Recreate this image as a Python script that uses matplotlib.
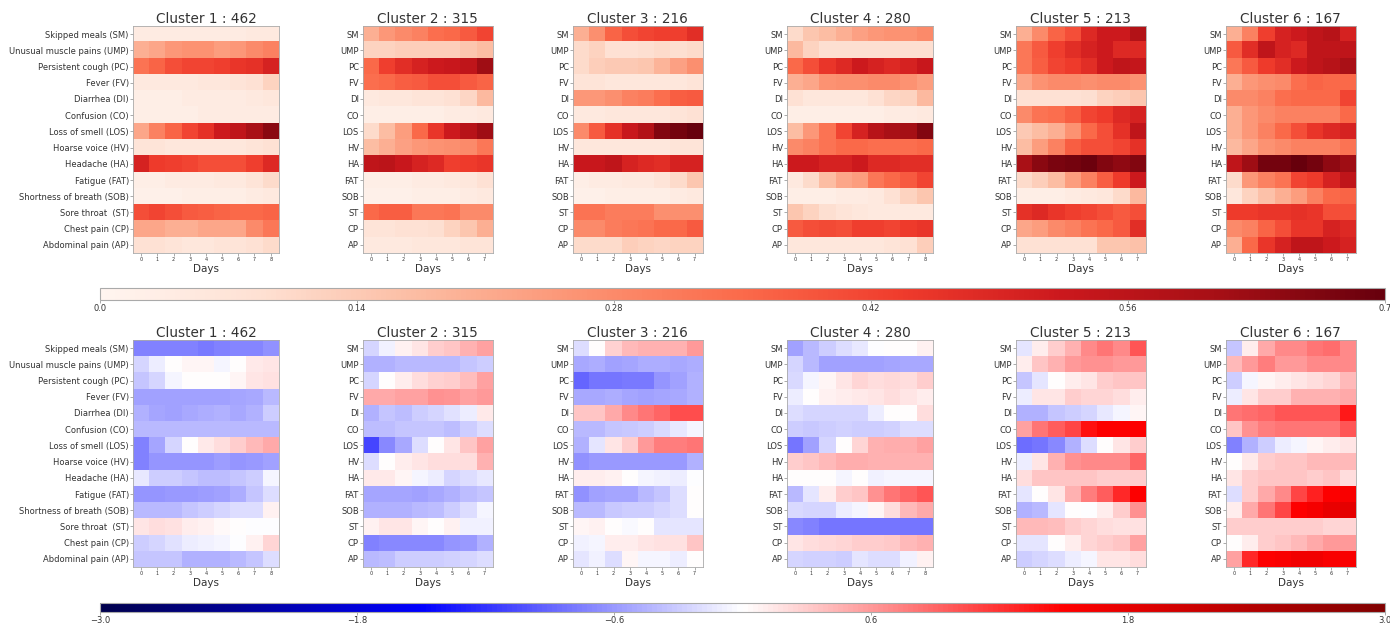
import matplotlib
matplotlib.use("Agg")
import matplotlib.pyplot as plt
import numpy as np

# symptom labels
full_names = ["Skipped meals (SM)", "Unusual muscle pains (UMP)", "Persistent cough (PC)",
              "Fever (FV)", "Diarrhea (DI)", "Confusion (CO)", "Loss of smell (LOS)",
              "Hoarse voice (HV)", "Headache (HA)", "Fatigue (FAT)",
              "Shortness of breath (SOB)", "Sore throat  (ST)", "Chest pain (CP)",
              "Abdominal pain (AP)"]
short_names = ["SM", "UMP", "PC", "FV", "DI", "CO", "LOS", "HV", "HA", "FAT", "SOB", "ST", "CP", "AP"]

cluster_ids = [1, 2, 3, 4, 5, 6]
cluster_sizes = [462, 315, 216, 280, 213, 167]

# top row: symptom prevalence (0 - 0.7)
prev_c1 = [[0.04, 0.04, 0.04, 0.04, 0.04, 0.04, 0.04, 0.05, 0.05],
           [0.20, 0.22, 0.25, 0.26, 0.26, 0.24, 0.25, 0.28, 0.30],
           [0.33, 0.36, 0.40, 0.42, 0.42, 0.43, 0.45, 0.46, 0.50],
           [0.05, 0.05, 0.05, 0.05, 0.06, 0.06, 0.07, 0.08, 0.12],
           [0.03, 0.03, 0.03, 0.04, 0.04, 0.04, 0.04, 0.05, 0.06],
           [0.03, 0.03, 0.03, 0.03, 0.04, 0.04, 0.04, 0.04, 0.04],
           [0.22, 0.30, 0.36, 0.42, 0.46, 0.52, 0.55, 0.60, 0.65],
           [0.07, 0.07, 0.06, 0.06, 0.06, 0.06, 0.06, 0.07, 0.08],
           [0.50, 0.44, 0.43, 0.42, 0.40, 0.40, 0.40, 0.43, 0.48],
           [0.03, 0.03, 0.04, 0.04, 0.04, 0.05, 0.05, 0.07, 0.10],
           [0.02, 0.02, 0.02, 0.03, 0.03, 0.03, 0.03, 0.04, 0.05],
           [0.40, 0.42, 0.40, 0.38, 0.37, 0.36, 0.35, 0.35, 0.36],
           [0.22, 0.22, 0.20, 0.20, 0.22, 0.22, 0.22, 0.28, 0.32],
           [0.08, 0.08, 0.07, 0.06, 0.06, 0.07, 0.07, 0.08, 0.10]]
prev_c2 = [[0.20, 0.25, 0.28, 0.30, 0.34, 0.35, 0.38, 0.42],
           [0.12, 0.12, 0.13, 0.13, 0.13, 0.13, 0.15, 0.17],
           [0.35, 0.43, 0.47, 0.50, 0.52, 0.53, 0.55, 0.62],
           [0.34, 0.35, 0.37, 0.38, 0.40, 0.40, 0.38, 0.36],
           [0.05, 0.06, 0.06, 0.07, 0.07, 0.08, 0.11, 0.18],
           [0.03, 0.03, 0.03, 0.03, 0.03, 0.04, 0.04, 0.05],
           [0.10, 0.17, 0.24, 0.35, 0.45, 0.52, 0.57, 0.62],
           [0.17, 0.20, 0.23, 0.25, 0.26, 0.27, 0.28, 0.32],
           [0.55, 0.56, 0.53, 0.50, 0.48, 0.43, 0.44, 0.45],
           [0.03, 0.03, 0.03, 0.04, 0.04, 0.05, 0.06, 0.08],
           [0.02, 0.02, 0.02, 0.03, 0.03, 0.03, 0.04, 0.05],
           [0.35, 0.37, 0.37, 0.32, 0.32, 0.33, 0.28, 0.28],
           [0.07, 0.07, 0.08, 0.08, 0.09, 0.12, 0.15, 0.20],
           [0.05, 0.05, 0.05, 0.06, 0.06, 0.06, 0.07, 0.07]]
prev_c3 = [[0.20, 0.27, 0.36, 0.40, 0.42, 0.43, 0.43, 0.47],
           [0.10, 0.12, 0.08, 0.08, 0.09, 0.10, 0.09, 0.10],
           [0.10, 0.13, 0.14, 0.14, 0.15, 0.19, 0.23, 0.27],
           [0.07, 0.07, 0.06, 0.06, 0.06, 0.06, 0.06, 0.07],
           [0.25, 0.25, 0.27, 0.30, 0.31, 0.34, 0.37, 0.38],
           [0.05, 0.05, 0.06, 0.06, 0.06, 0.06, 0.07, 0.08],
           [0.28, 0.38, 0.46, 0.53, 0.58, 0.66, 0.68, 0.70],
           [0.06, 0.06, 0.06, 0.06, 0.06, 0.06, 0.07, 0.07],
           [0.53, 0.53, 0.55, 0.50, 0.48, 0.47, 0.50, 0.50],
           [0.03, 0.04, 0.04, 0.05, 0.05, 0.07, 0.10, 0.15],
           [0.02, 0.02, 0.03, 0.03, 0.03, 0.03, 0.04, 0.05],
           [0.33, 0.33, 0.31, 0.31, 0.31, 0.27, 0.27, 0.27],
           [0.28, 0.28, 0.31, 0.32, 0.33, 0.35, 0.35, 0.38],
           [0.10, 0.10, 0.10, 0.13, 0.12, 0.11, 0.12, 0.12]]
prev_c4 = [[0.10, 0.15, 0.17, 0.20, 0.23, 0.25, 0.26, 0.26, 0.28],
           [0.18, 0.12, 0.09, 0.09, 0.09, 0.09, 0.09, 0.09, 0.09],
           [0.35, 0.40, 0.45, 0.48, 0.52, 0.50, 0.48, 0.50, 0.53],
           [0.20, 0.22, 0.26, 0.27, 0.27, 0.28, 0.28, 0.26, 0.24],
           [0.08, 0.06, 0.06, 0.06, 0.06, 0.08, 0.11, 0.12, 0.18],
           [0.03, 0.03, 0.03, 0.03, 0.03, 0.03, 0.04, 0.04, 0.05],
           [0.17, 0.25, 0.33, 0.42, 0.50, 0.57, 0.60, 0.61, 0.66],
           [0.28, 0.30, 0.33, 0.35, 0.35, 0.34, 0.34, 0.34, 0.35],
           [0.52, 0.52, 0.50, 0.50, 0.52, 0.48, 0.48, 0.47, 0.47],
           [0.05, 0.10, 0.17, 0.22, 0.24, 0.32, 0.35, 0.38, 0.42],
           [0.03, 0.03, 0.03, 0.04, 0.04, 0.05, 0.08, 0.12, 0.15],
           [0.15, 0.12, 0.09, 0.07, 0.06, 0.05, 0.05, 0.05, 0.05],
           [0.38, 0.40, 0.41, 0.40, 0.43, 0.43, 0.42, 0.44, 0.45],
           [0.06, 0.06, 0.06, 0.06, 0.06, 0.06, 0.07, 0.08, 0.13]]
prev_c5 = [[0.20, 0.28, 0.36, 0.40, 0.48, 0.52, 0.52, 0.58],
           [0.32, 0.38, 0.43, 0.47, 0.50, 0.52, 0.48, 0.48],
           [0.32, 0.37, 0.42, 0.44, 0.47, 0.52, 0.55, 0.54],
           [0.22, 0.26, 0.28, 0.28, 0.27, 0.28, 0.28, 0.26],
           [0.08, 0.08, 0.08, 0.08, 0.09, 0.12, 0.13, 0.15],
           [0.28, 0.33, 0.34, 0.37, 0.42, 0.44, 0.48, 0.50],
           [0.14, 0.17, 0.20, 0.26, 0.35, 0.40, 0.46, 0.55],
           [0.17, 0.24, 0.30, 0.37, 0.40, 0.40, 0.42, 0.46],
           [0.60, 0.65, 0.67, 0.68, 0.69, 0.66, 0.64, 0.66],
           [0.10, 0.13, 0.17, 0.24, 0.30, 0.37, 0.44, 0.52],
           [0.03, 0.03, 0.03, 0.04, 0.05, 0.06, 0.10, 0.18],
           [0.46, 0.48, 0.45, 0.43, 0.42, 0.40, 0.38, 0.40],
           [0.22, 0.24, 0.28, 0.30, 0.33, 0.35, 0.38, 0.47],
           [0.08, 0.08, 0.08, 0.08, 0.08, 0.15, 0.15, 0.16]]
prev_c6 = [[0.20, 0.30, 0.43, 0.50, 0.52, 0.55, 0.57, 0.50],
           [0.38, 0.47, 0.55, 0.50, 0.48, 0.55, 0.55, 0.55],
           [0.32, 0.38, 0.44, 0.47, 0.52, 0.55, 0.57, 0.60],
           [0.20, 0.25, 0.27, 0.28, 0.34, 0.36, 0.35, 0.35],
           [0.28, 0.28, 0.30, 0.34, 0.35, 0.35, 0.35, 0.42],
           [0.20, 0.25, 0.28, 0.30, 0.30, 0.30, 0.30, 0.35],
           [0.20, 0.25, 0.30, 0.35, 0.40, 0.45, 0.48, 0.50],
           [0.18, 0.22, 0.26, 0.28, 0.30, 0.30, 0.30, 0.33],
           [0.55, 0.62, 0.68, 0.68, 0.70, 0.68, 0.64, 0.62],
           [0.10, 0.25, 0.30, 0.33, 0.42, 0.44, 0.50, 0.55],
           [0.06, 0.12, 0.16, 0.20, 0.24, 0.30, 0.35, 0.36],
           [0.44, 0.44, 0.45, 0.45, 0.46, 0.45, 0.40, 0.40],
           [0.28, 0.30, 0.36, 0.40, 0.45, 0.45, 0.50, 0.48],
           [0.20, 0.35, 0.45, 0.50, 0.55, 0.55, 0.52, 0.50]]

# bottom row: standardised scores (-3 - 3)
z_c1 = [[-0.75, -0.75, -0.75, -0.75, -0.78, -0.75, -0.72, -0.72, -0.65],
        [-0.25, -0.10, 0.00, 0.05, 0.05, -0.05, 0.02, 0.12, 0.15],
        [-0.35, -0.25, -0.05, 0.00, 0.02, 0.02, 0.05, 0.15, 0.18],
        [-0.55, -0.55, -0.55, -0.55, -0.55, -0.55, -0.52, -0.50, -0.42],
        [-0.45, -0.52, -0.55, -0.50, -0.48, -0.45, -0.50, -0.45, -0.30],
        [-0.42, -0.42, -0.42, -0.42, -0.42, -0.40, -0.40, -0.42, -0.42],
        [-0.75, -0.52, -0.25, 0.02, 0.12, 0.20, 0.30, 0.40, 0.50],
        [-0.75, -0.62, -0.62, -0.62, -0.62, -0.58, -0.62, -0.60, -0.55],
        [-0.12, -0.30, -0.30, -0.35, -0.38, -0.38, -0.35, -0.30, -0.05],
        [-0.62, -0.62, -0.60, -0.60, -0.58, -0.55, -0.48, -0.35, -0.20],
        [-0.42, -0.42, -0.40, -0.35, -0.30, -0.25, -0.20, -0.20, 0.08],
        [0.15, 0.20, 0.18, 0.10, 0.08, 0.03, 0.00, -0.02, -0.02],
        [-0.30, -0.25, -0.18, -0.10, -0.08, -0.05, -0.02, 0.08, 0.25],
        [-0.35, -0.35, -0.35, -0.45, -0.45, -0.45, -0.40, -0.35, -0.20]]
z_c2 = [[-0.25, -0.08, 0.08, 0.15, 0.30, 0.35, 0.45, 0.55],
        [-0.45, -0.45, -0.42, -0.42, -0.40, -0.40, -0.35, -0.30],
        [-0.25, 0.00, 0.10, 0.20, 0.28, 0.30, 0.38, 0.55],
        [0.50, 0.50, 0.55, 0.55, 0.65, 0.62, 0.55, 0.60],
        [-0.45, -0.35, -0.38, -0.30, -0.25, -0.18, -0.10, 0.12],
        [-0.38, -0.38, -0.35, -0.35, -0.35, -0.38, -0.30, -0.20],
        [-1.10, -0.70, -0.50, -0.20, 0.02, 0.15, 0.35, 0.55],
        [-0.20, 0.00, 0.10, 0.15, 0.20, 0.20, 0.20, 0.45],
        [0.12, 0.12, 0.05, -0.05, -0.10, -0.25, -0.20, -0.12],
        [-0.52, -0.52, -0.52, -0.55, -0.50, -0.45, -0.38, -0.35],
        [-0.45, -0.45, -0.45, -0.42, -0.38, -0.30, -0.20, -0.05],
        [0.08, 0.15, 0.15, 0.05, 0.02, 0.08, -0.08, -0.08],
        [-0.75, -0.70, -0.70, -0.70, -0.70, -0.62, -0.60, -0.45],
        [-0.42, -0.38, -0.30, -0.30, -0.30, -0.28, -0.25, -0.20]]
z_c3 = [[-0.20, 0.00, 0.28, 0.40, 0.45, 0.45, 0.45, 0.60],
        [-0.50, -0.48, -0.55, -0.52, -0.48, -0.48, -0.50, -0.48],
        [-0.90, -0.82, -0.80, -0.78, -0.78, -0.62, -0.55, -0.45],
        [-0.50, -0.50, -0.48, -0.52, -0.55, -0.52, -0.50, -0.45],
        [0.35, 0.35, 0.50, 0.70, 0.80, 0.90, 1.05, 1.05],
        [-0.40, -0.40, -0.35, -0.32, -0.30, -0.22, -0.12, -0.05],
        [-0.45, -0.15, 0.15, 0.30, 0.60, 0.75, 0.75, 0.80],
        [-0.65, -0.60, -0.60, -0.60, -0.60, -0.60, -0.60, -0.45],
        [0.10, 0.10, 0.08, 0.00, -0.05, -0.08, -0.10, -0.02],
        [-0.65, -0.55, -0.52, -0.52, -0.40, -0.35, -0.20, 0.00],
        [-0.40, -0.40, -0.32, -0.30, -0.30, -0.25, -0.20, 0.00],
        [0.05, 0.08, 0.00, -0.03, 0.00, -0.15, -0.15, -0.15],
        [-0.08, -0.05, 0.10, 0.10, 0.15, 0.18, 0.18, 0.35],
        [-0.15, -0.08, -0.20, 0.05, -0.05, -0.05, -0.10, 0.00]]
z_c4 = [[-0.55, -0.40, -0.30, -0.20, -0.12, -0.02, 0.00, 0.00, 0.08],
        [-0.25, -0.42, -0.55, -0.55, -0.55, -0.55, -0.52, -0.50, -0.50],
        [-0.22, -0.05, 0.05, 0.15, 0.25, 0.20, 0.22, 0.20, 0.30],
        [-0.10, 0.00, 0.08, 0.10, 0.12, 0.15, 0.20, 0.15, 0.10],
        [-0.20, -0.25, -0.25, -0.25, -0.25, -0.10, 0.00, 0.02, 0.20],
        [-0.30, -0.32, -0.30, -0.28, -0.30, -0.30, -0.28, -0.20, -0.20],
        [-0.80, -0.55, -0.25, 0.02, 0.25, 0.45, 0.48, 0.48, 0.55],
        [0.30, 0.35, 0.42, 0.48, 0.48, 0.45, 0.45, 0.45, 0.45],
        [0.02, 0.00, 0.00, -0.05, 0.00, -0.08, -0.05, -0.05, -0.05],
        [-0.40, -0.15, 0.10, 0.30, 0.35, 0.65, 0.80, 0.90, 1.00],
        [-0.22, -0.25, -0.25, -0.10, -0.05, 0.05, 0.20, 0.40, 0.50],
        [-0.70, -0.75, -0.80, -0.80, -0.80, -0.80, -0.80, -0.80, -0.82],
        [0.15, 0.20, 0.22, 0.25, 0.30, 0.30, 0.32, 0.40, 0.45],
        [-0.25, -0.28, -0.28, -0.30, -0.15, -0.20, -0.20, -0.08, 0.08]]
z_c5 = [[-0.15, 0.10, 0.30, 0.45, 0.70, 0.80, 0.70, 1.00],
        [0.10, 0.35, 0.45, 0.60, 0.65, 0.65, 0.60, 0.60],
        [-0.35, -0.15, 0.00, 0.10, 0.15, 0.30, 0.35, 0.35],
        [-0.10, 0.15, 0.15, 0.30, 0.25, 0.25, 0.20, 0.10],
        [-0.45, -0.45, -0.35, -0.30, -0.25, -0.12, -0.05, 0.05],
        [0.55, 0.80, 0.95, 1.10, 1.40, 1.50, 1.50, 1.50],
        [-0.85, -0.80, -0.70, -0.45, -0.20, 0.00, 0.15, 0.30],
        [-0.10, 0.15, 0.45, 0.65, 0.70, 0.70, 0.70, 0.90],
        [0.20, 0.35, 0.35, 0.35, 0.35, 0.30, 0.30, 0.30],
        [-0.15, 0.00, 0.15, 0.45, 0.75, 0.95, 1.25, 1.50],
        [-0.45, -0.40, -0.15, 0.00, -0.02, 0.10, 0.30, 0.65],
        [0.40, 0.40, 0.38, 0.30, 0.25, 0.20, 0.18, 0.18],
        [-0.15, -0.15, 0.00, 0.10, 0.25, 0.30, 0.35, 0.55],
        [-0.30, -0.25, -0.20, -0.10, -0.05, 0.15, 0.15, 0.20]]
z_c6 = [[-0.35, 0.10, 0.50, 0.70, 0.70, 0.80, 0.85, 0.70],
        [0.40, 0.60, 0.75, 0.60, 0.60, 0.70, 0.70, 0.70],
        [-0.30, -0.05, 0.05, 0.10, 0.15, 0.20, 0.25, 0.40],
        [-0.10, 0.15, 0.30, 0.30, 0.45, 0.45, 0.45, 0.50],
        [0.80, 0.85, 0.90, 1.00, 1.00, 1.00, 1.00, 1.35],
        [0.35, 0.65, 0.75, 0.80, 0.80, 0.80, 0.80, 1.00],
        [-0.75, -0.45, -0.30, -0.10, -0.05, 0.05, 0.10, 0.15],
        [0.00, 0.12, 0.30, 0.35, 0.35, 0.40, 0.40, 0.40],
        [0.15, 0.30, 0.35, 0.35, 0.35, 0.30, 0.35, 0.20],
        [-0.20, 0.30, 0.50, 0.70, 1.10, 1.30, 1.50, 1.55],
        [0.10, 0.50, 0.80, 1.10, 1.50, 1.60, 1.75, 1.80],
        [0.30, 0.30, 0.30, 0.30, 0.30, 0.30, 0.25, 0.25],
        [0.00, 0.10, 0.30, 0.35, 0.40, 0.50, 0.60, 0.60],
        [0.55, 1.25, 1.50, 1.55, 1.65, 1.65, 1.55, 1.55]]

top_data = [prev_c1, prev_c2, prev_c3, prev_c4, prev_c5, prev_c6]
bottom_data = [z_c1, z_c2, z_c3, z_c4, z_c5, z_c6]

W, H = 1390, 625
fig = plt.figure(figsize=(W / 100, H / 100), dpi=100)
txt = "#333333"

# panel layout in pixels
lefts = [133, 363, 573, 787, 1016, 1226]
cell_w = 16.2


def px(x, y, w, h):
    return [x / W, 1 - (y + h) / H, w / W, h / H]


def draw_row(data_list, top_px, cmap, vmin, vmax):
    im = None
    for i, data in enumerate(data_list):
        arr = np.array(data)
        ncol = arr.shape[1]
        ax = fig.add_axes(px(lefts[i], top_px, ncol * cell_w, 227))
        im = ax.imshow(arr, cmap=cmap, vmin=vmin, vmax=vmax, aspect="auto",
                       interpolation="nearest")
        ax.set_title(f"Cluster {cluster_ids[i]} : {cluster_sizes[i]}", fontsize=9.8,
                     color=txt, pad=1)
        ax.set_yticks(range(len(short_names)))
        ax.set_yticklabels(full_names if i == 0 else short_names, fontsize=6.0, color=txt)
        ax.set_xticks(range(ncol))
        ax.set_xticklabels([str(d) for d in range(ncol)], fontsize=3.5, color=txt)
        ax.set_xlabel("Days", fontsize=7.5, color=txt, labelpad=1)
        ax.tick_params(length=2, width=0.5, color="#888888", pad=1)
        for s in ax.spines.values():
            s.set_color("#aaaaaa")
            s.set_linewidth(0.6)
    return im


im_top = draw_row(top_data, 26, "Reds", 0.0, 0.7)
im_bot = draw_row(bottom_data, 340, "seismic", -3.0, 3.0)

cax1 = fig.add_axes(px(100, 288, 1285, 12))
cb1 = fig.colorbar(im_top, cax=cax1, orientation="horizontal")
cb1.set_ticks([0.0, 0.14, 0.28, 0.42, 0.56, 0.7])
cb1.set_ticklabels(["0.0", "0.14", "0.28", "0.42", "0.56", "0.7"])

cax2 = fig.add_axes(px(100, 603, 1285, 9))
cb2 = fig.colorbar(im_bot, cax=cax2, orientation="horizontal")
cb2.set_ticks([-3.0, -1.8, -0.6, 0.6, 1.8, 3.0])
cb2.set_ticklabels(["\u22123.0", "\u22121.8", "\u22120.6", "0.6", "1.8", "3.0"])

for cb in (cb1, cb2):
    cb.ax.tick_params(labelsize=6, length=2, width=0.5, color="#888888",
                      labelcolor=txt, pad=1)
    cb.outline.set_edgecolor("#aaaaaa")
    cb.outline.set_linewidth(0.8)

fig.savefig("out.png", dpi=100)
